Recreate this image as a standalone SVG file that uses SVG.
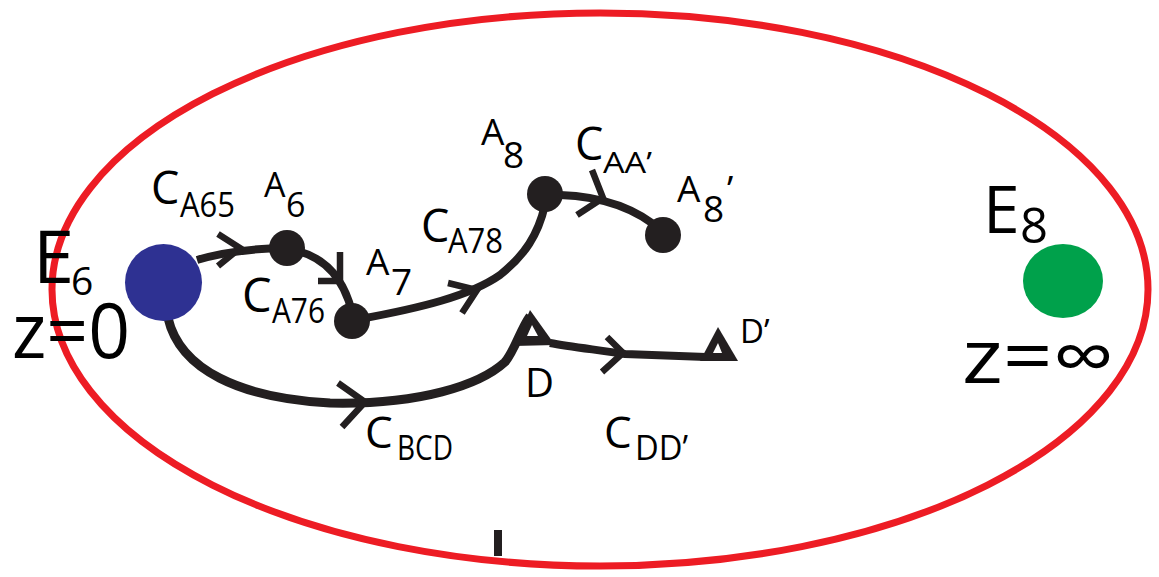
<svg xmlns="http://www.w3.org/2000/svg" width="1159" height="577" viewBox="0 0 1159 577">
<style>
.t{font-family:"Open Sans","Noto Sans","Liberation Sans",sans-serif;fill:#000}
.c{fill:none;stroke:#231f20;stroke-width:8;stroke-linecap:butt;stroke-linejoin:miter}
.ch{fill:none;stroke:#231f20;stroke-width:6.5;stroke-linecap:butt;stroke-linejoin:miter}
.dot{fill:#231f20}
</style>
<rect width="1159" height="577" fill="#fff"/>
<g id="boundary">
<ellipse cx="600" cy="289.5" rx="548" ry="276.5" fill="none" stroke="#ed1c24" stroke-width="7"/>
<rect x="494" y="530" width="8" height="26" fill="#231f20"/>
</g>
<g id="connectors">
<path class="c" d="M197,260 Q230,250 278,248"/>
<polyline class="ch" points="218,234 240,248 218,266"/>
<path class="c" d="M298,251 C320,257 342,272 352,312"/>
<polyline class="ch" points="340,252 340,281 318,281"/>
<path class="c" d="M360,319 C420,308 470,296 500,275 C525,255 538,235 545,205"/>
<polyline class="ch" points="448,283 477,290 462,313"/>
<path class="c" d="M560,195 C590,196 630,202 663,232"/>
<polyline class="ch" points="592,170 603,198 577,215"/>
<path class="c" style="stroke-width:9" d="M168,318 C180,370 240,398 330,403 C420,405 480,385 505,362 C515,350 520,330 530,316"/>
<polyline class="ch" points="338,383 365,402 342,427"/>
<path class="c" d="M550,343 C570,347 600,350 625,354 L706,357"/>
<polyline class="ch" points="607,337 623,353 602,372"/>
</g>
<g id="E6">
<circle cx="163.5" cy="282.5" r="38.5" fill="#2e3192"/>
<text class="t" x="33" y="283" font-size="74">E</text>
<text class="t" x="71" y="295" font-size="39">6</text>
<text class="t" x="12" y="358" font-size="76" textLength="118" lengthAdjust="spacingAndGlyphs">z=0</text>
</g>
<g id="E8">
<ellipse cx="1063" cy="281" rx="40" ry="37" fill="#00a14b"/>
<text class="t" x="983" y="233" font-size="66">E</text>
<text class="t" x="1020" y="243" font-size="49">8</text>
<text class="t" x="962" y="383" font-size="75" textLength="152" lengthAdjust="spacingAndGlyphs">z=∞</text>
</g>
<g id="A6">
<circle class="dot" cx="287" cy="248" r="18"/>
<text class="t" x="264" y="197" font-size="34">A</text>
<text class="t" x="286" y="217" font-size="34">6</text>
<text class="t" x="151" y="204" font-size="45">C</text>
<text class="t" x="180" y="217" font-size="35" textLength="55" lengthAdjust="spacingAndGlyphs">A65</text>
</g>
<g id="A7">
<circle class="dot" cx="352" cy="321" r="18"/>
<text class="t" x="366" y="275" font-size="37">A</text>
<text class="t" x="391" y="295" font-size="37">7</text>
<text class="t" x="242" y="312" font-size="47">C</text>
<text class="t" x="272" y="323" font-size="35" textLength="53" lengthAdjust="spacingAndGlyphs">A76</text>
</g>
<g id="A8">
<circle class="dot" cx="545" cy="194" r="18"/>
<text class="t" x="481" y="145" font-size="37">A</text>
<text class="t" x="503" y="168" font-size="37">8</text>
<text class="t" x="421" y="242" font-size="45">C</text>
<text class="t" x="448" y="253" font-size="35" textLength="55" lengthAdjust="spacingAndGlyphs">A78</text>
</g>
<g id="A8p">
<circle class="dot" cx="663" cy="235" r="18"/>
<text class="t" x="677" y="202" font-size="37">A</text>
<text class="t" x="703" y="222" font-size="37">8</text>
<text class="t" x="727" y="202" font-size="37">’</text>
<text class="t" x="575" y="160" font-size="45">C</text>
<text class="t" x="603" y="173" font-size="29" textLength="49" lengthAdjust="spacingAndGlyphs">AA’</text>
</g>
<g id="D">
<polygon class="dot" points="530,310 514,346 555,345"/>
<polygon points="532,325 527,336 538,336" fill="#fff"/>
<text class="t" x="525" y="397" font-size="40">D</text>
<text class="t" x="365" y="448" font-size="44">C</text>
<text class="t" x="397" y="460" font-size="35" textLength="56" lengthAdjust="spacingAndGlyphs">BCD</text>
</g>
<g id="Dp">
<polygon class="dot" points="718,327 700,361 738,361"/>
<polygon points="718,343 713,353 722,353" fill="#fff"/>
<text class="t" x="740" y="343" font-size="33">D’</text>
<text class="t" x="604" y="448" font-size="44">C</text>
<text class="t" x="635" y="460" font-size="35" textLength="53" lengthAdjust="spacingAndGlyphs">DD’</text>
</g>
</svg>
